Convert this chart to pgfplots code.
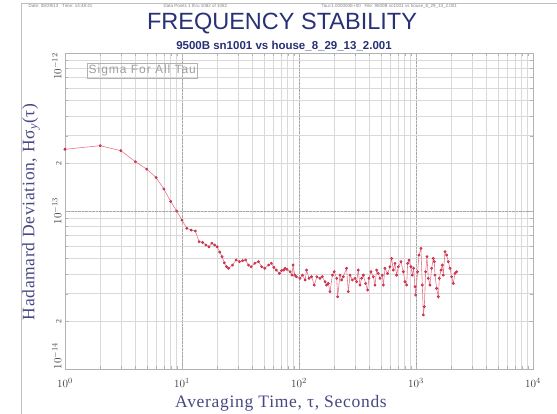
\documentclass[border=0pt]{standalone}
\usepackage{pgfplots}
\pgfplotsset{compat=1.18}
\usepackage{fontspec}
\setmainfont{Liberation Serif}
\newfontfamily\sansf{Liberation Sans}
\newfontfamily\sansls[LetterSpace=8]{Liberation Sans}
\newfontfamily\lblf[LetterSpace=4]{Liberation Serif}
\definecolor{ttl}{RGB}{40,48,118}
\definecolor{lbl}{RGB}{72,72,132}
\definecolor{dline}{RGB}{232,120,140}
\definecolor{dmark}{RGB}{200,40,70}
\begin{document}
\begin{tikzpicture}
\path[use as bounding box] (0pt,0pt) rectangle (557pt,414pt);
\draw[gray!50, line width=0.6pt] (21pt,0pt) -- (21pt,411pt) -- (557pt,411pt);
\begin{axis}[at={(65pt,45pt)}, anchor=south west, scale only axis, width=468pt, height=316pt,
 xmode=log, ymode=log, xmin=1, xmax=1e4, ymin=1e-14, ymax=1e-12,
 grid=both,
 major grid style={gray!70, densely dotted, line width=0.6pt},
 minor grid style={gray!30, line width=0.5pt},
 axis line style={gray!60, line width=0.7pt},
 tick style={gray!60},
 tick label style={font=\fontsize{11}{12}\selectfont, text=black!75},
 ytick={1e-14,1e-13,1e-12},
 yticklabels={\rlap{$10^{-14}$},$10^{-13}$,\llap{$10^{-12}$}},
 yticklabel style={rotate=90, anchor=south},
 xticklabel style={yshift=-6pt},
 extra y ticks={2e-14,2e-13}, extra y tick labels={2,2},
 extra y tick style={grid=none, yticklabel style={font=\fontsize{8}{9}\selectfont}},
 clip=true]
\addplot[dline, line width=0.6pt, mark=*, mark size=1.1pt, mark options={dmark, fill=dmark!70}] coordinates {
(1,2.46e-13) (2,2.59e-13) (3,2.41e-13) (4,2.05e-13) (5,1.84e-13) (6,1.63e-13) (7,1.38e-13) (8,1.15e-13) (9,1.00e-13) (10,8.77e-14)
(11,7.77e-14) (12,7.58e-14) (13,7.47e-14) (14,6.39e-14) (15,6.33e-14) (16,6.1e-14) (17,5.94e-14) (18,6.26e-14) (19,6.1e-14) (20,5.94e-14)
(21,5.5e-14) (22,5.14e-14) (23,4.7e-14) (24,4.45e-14) (25,4.34e-14) (27,4.55e-14) (29,4.9e-14) (31,4.78e-14) (33,4.85e-14) (35,4.9e-14)
(37,4.55e-14) (39,4.44e-14) (42,4.67e-14) (45,4.78e-14) (48,4.44e-14) (51,4.34e-14) (55,4.55e-14) (58,4.67e-14) (61,4.4e-14) (64,4.23e-14)
(68,4.03e-14) (71,4.2e-14) (74,4.23e-14) (76,4.34e-14) (79,4.27e-14) (84,4.13e-14) (87,3.93e-14) (89,4.55e-14) (92,3.93e-14)
(95,3.84e-14) (102,3.75e-14) (107,3.93e-14) (113,3.66e-14) (116,4.23e-14) (122,3.75e-14) (128,3.84e-14) (135,3.40e-14) (142,3.84e-14) (151,3.75e-14)
(158,3.84e-14) (167,3.57e-14) (172,3.40e-14) (178,3.48e-14) (184,3.09e-14) (193,3.93e-14) (200,4.13e-14) (210,3.75e-14) (214,2.87e-14) (224,3.93e-14)
(231,3.66e-14) (239,3.84e-14) (255,4.34e-14) (264,3.09e-14) (273,3.93e-14) (286,3.66e-14) (301,3.75e-14) (311,3.57e-14) (321,4.23e-14) (332,3.40e-14)
(343,3.75e-14) (355,3.93e-14) (371,3.48e-14) (386,3.16e-14) (396,3.75e-14) (412,4.13e-14) (432,3.84e-14) (446,3.40e-14) (461,4.23e-14) (476,4.03e-14)
(492,3.75e-14) (515,3.93e-14) (526,3.40e-14) (543,4.34e-14) (572,4.03e-14) (599,4.44e-14) (619,5.01e-14) (640,4.23e-14) (661,4.66e-14) (683,3.93e-14)
(706,4.44e-14) (744,4.78e-14) (779,4.13e-14) (805,3.57e-14) (832,3.40e-14) (849,4.66e-14) (871,4.89e-14) (906,4.44e-14) (930,3.93e-14) (955,4.34e-14)
(980,3.32e-14) (993,2.94e-14) (1033,4.13e-14) (1060,5.26e-14) (1102,5.80e-14) (1132,3.40e-14) (1155,2.20e-14) (1178,2.48e-14) (1209,4.13e-14) (1241,5.14e-14)
(1274,3.75e-14) (1316,3.40e-14) (1361,4.34e-14) (1406,5.01e-14) (1434,4.78e-14) (1453,3.93e-14) (1501,3.24e-14) (1552,2.87e-14) (1583,3.75e-14) (1635,4.23e-14)
(1679,4.55e-14) (1712,3.93e-14) (1769,5.53e-14) (1828,5.26e-14) (1889,4.78e-14) (1952,4.34e-14) (2017,3.84e-14) (2084,3.48e-14) (2154,4.03e-14) (2225,4.13e-14)
};
\end{axis}
\node[text=ttl, font=\sansf\fontsize{23.5}{26}\selectfont] at (282pt,390pt) {FREQUENCY STABILITY};
\node[text=ttl, font=\sansf\bfseries\fontsize{11.5}{13}\selectfont] at (284pt,368pt) {9500B sn1001 vs house\_8\_29\_13\_2.001};
\node[anchor=west, text=gray, font=\sansf\fontsize{4.5}{5}\selectfont] at (25pt,408pt) {Date: 08/29/13 \ \ Time: 14:48:41};
\node[anchor=west, text=gray, font=\sansf\fontsize{4.5}{5}\selectfont] at (160pt,408pt) {Data Points 1 thru 1082 of 1082};
\node[anchor=west, text=gray, font=\sansf\fontsize{4.5}{5}\selectfont] at (318pt,408pt) {Tau=1.000000E+00 \ \ File: 9500B sn1001 vs house\_8\_29\_13\_2.001};
\node[anchor=west, draw=gray!60, text=gray!75, font=\sansls\fontsize{12}{13}\selectfont, inner sep=1.5pt, minimum height=15pt] at (87pt,343.5pt) {Sigma For All Tau};
\node[rotate=90, text=lbl, font=\lblf\fontsize{17.5}{20}\selectfont] at (31pt,202pt) {Hadamard Deviation, Hσ\textsubscript{\itshape y}(τ)};
\node[text=lbl, font=\lblf\fontsize{17.5}{20}\selectfont] at (281pt,11pt) {Averaging Time, τ, Seconds};
\end{tikzpicture}
\end{document}
